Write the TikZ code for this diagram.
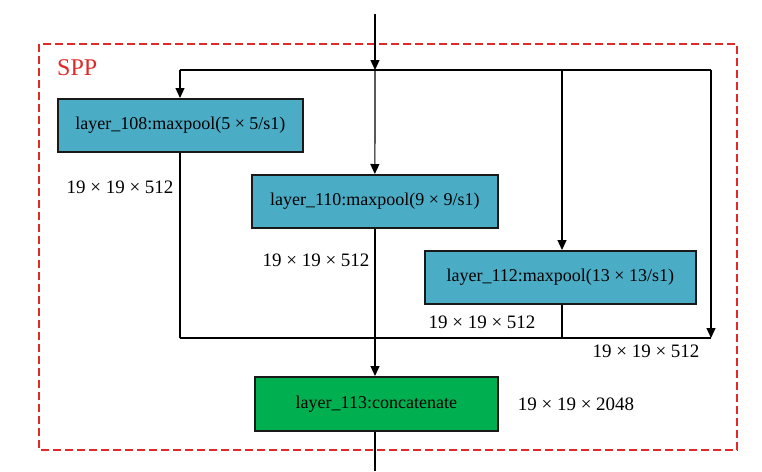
\documentclass[tikz,border=0pt]{standalone}
\usepackage{fontspec}
\setmainfont{Liberation Serif}
\usetikzlibrary{arrows.meta}
\definecolor{boxblue}{HTML}{4BACC6}
\definecolor{boxgreen}{HTML}{00B050}
\definecolor{sppred}{HTML}{E02A2A}
\begin{document}
\begin{tikzpicture}[x=1pt,y=-1pt,
  conn/.style={line width=1.2pt,black},
  arr/.style={conn,-{Triangle[length=10pt,width=9pt]}},
  pool/.style={draw=black!90,line width=1.7pt,fill=boxblue,anchor=north west,inner sep=0pt,font=\fontsize{18}{20}\selectfont},
  concatbox/.style={draw=black!90,line width=1.7pt,fill=boxgreen,anchor=north west,inner sep=0pt,font=\fontsize{18}{20}\selectfont},
  dimlabel/.style={font=\fontsize{19}{21}\selectfont,inner sep=0pt}]
\useasboundingbox (0,0) rectangle (762,471);
\draw[sppred,line width=2.2pt,dash pattern=on 8pt off 4pt] (39,44) rectangle (737,450);
\node[text=sppred,font=\fontsize{24}{26}\selectfont,anchor=west,inner sep=0pt] (spp) at (57,68) {SPP};
% boxes
\node[pool,minimum width=245pt,minimum height=53pt] (b108) at (57,98) {layer\_108:maxpool(5 × 5/s1)};
\node[pool,minimum width=246pt,minimum height=53pt] (b110) at (251,174) {layer\_110:maxpool(9 × 9/s1)};
\node[pool,minimum width=271pt,minimum height=53pt] (b112) at (424,250) {layer\_112:maxpool(13 × 13/s1)};
\node[concatbox,minimum width=243pt,minimum height=54pt] (b113) at (254,376) {layer\_113:concatenate};
% coordinates
\coordinate (in) at (375,14);
\coordinate (split) at (375,70);
\coordinate (tl) at (180,70);
\coordinate (t112) at (562,70);
\coordinate (tr) at (711,70);
\coordinate (bl) at (180,338);
\coordinate (b112j) at (562,338);
\coordinate (br) at (711,338);
\coordinate (out) at (375,471);
% connectors
\draw[arr] (in) -- (split);
\draw[conn] (tl) -- (tr);
\draw[arr] (tl) -- (b108.north -| tl);
\draw[arr] (split) -- (b110.north);
\draw[arr] (t112) -- (b112.north -| t112);
\draw[arr] (tr) -- (br);
\draw[conn] (bl) -- (br);
\draw[conn] (b108.south -| bl) -- (bl);
\draw[conn] (b112.south -| b112j) -- (b112j);
\draw[arr] (b110.south -| split) -- (b113.north -| split);
\draw[conn] (b113.south -| split) -- (out);
% labels
\node[dimlabel] (l108) at (120,187) {19 × 19 × 512};
\node[dimlabel] (l110) at (316,260) {19 × 19 × 512};
\node[dimlabel] (l112) at (482,322) {19 × 19 × 512};
\node[dimlabel] (lr) at (646,351) {19 × 19 × 512};
\node[dimlabel] (l113) at (576,404) {19 × 19 × 2048};
\end{tikzpicture}
\end{document}
